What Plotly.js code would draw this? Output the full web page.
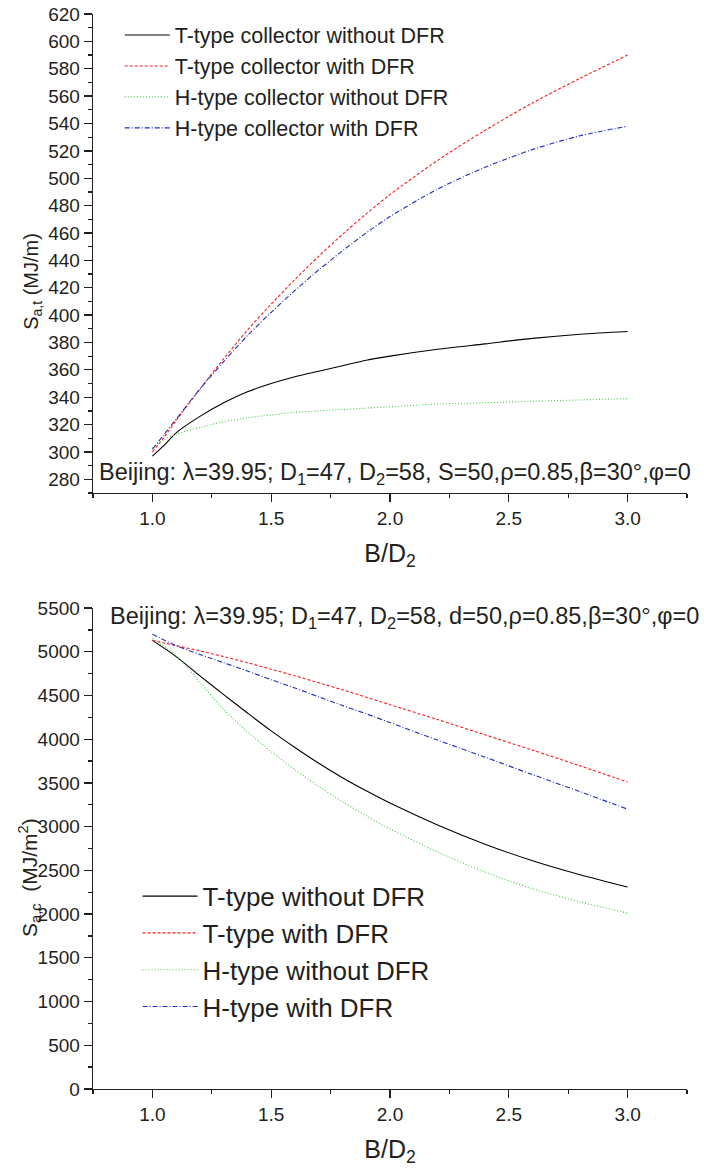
<!DOCTYPE html>
<html>
<head>
<meta charset="utf-8">
<script src="https://cdn.plot.ly/plotly-3.0.1.min.js"></script>
<style>html,body{margin:0;padding:0;background:#fff;}#chart{width:704px;height:1168px;}</style>
</head>
<body>
<div id="chart"></div>
<script>
// ---- data: top chart (S_a,t, MJ/m) ----
const xTop = [1.0, 1.05, 1.1, 1.2, 1.3, 1.4, 1.5, 1.6, 1.7, 1.8, 1.9, 2.0, 2.2, 2.4, 2.6, 2.8, 3.0];
const topTNo   = [297, 305, 314, 326, 336, 344, 350, 355, 359, 363, 367, 370, 375, 379, 383, 386, 388];
const topTWith = [300, 311, 323, 346, 368, 389, 408, 426, 443, 459, 474, 488, 513, 535, 555, 573, 590];
const topHNo   = [303, 309, 313, 318, 322, 325, 327, 329, 330, 331, 332, 333, 335, 336, 337, 338, 339];
const topHWith = [302, 313, 324, 346, 366, 385, 402, 418, 433, 447, 460, 472, 492, 508, 521, 531, 538];

// ---- data: bottom chart (S_a,c, MJ/m2) ----
const xBot = [1.0, 1.1, 1.2, 1.3, 1.4, 1.5, 1.6, 1.7, 1.8, 1.9, 2.0, 2.2, 2.4, 2.6, 2.8, 3.0];
const botTNo   = [5130, 4945, 4725, 4510, 4300, 4095, 3905, 3725, 3560, 3410, 3270, 3020, 2800, 2610, 2450, 2310];
const botTWith = [5130, 5070, 5010, 4945, 4875, 4800, 4725, 4645, 4565, 4480, 4395, 4225, 4050, 3875, 3695, 3510];
const botHNo   = [5150, 4955, 4650, 4340, 4085, 3860, 3650, 3460, 3285, 3125, 2975, 2710, 2480, 2290, 2140, 2010];
const botHWith = [5200, 5070, 4970, 4875, 4780, 4680, 4585, 4485, 4385, 4290, 4190, 3990, 3795, 3595, 3400, 3200];

const topNames = ["T-type collector without DFR", "T-type collector with DFR",
                  "H-type collector without DFR", "H-type collector with DFR"];
const botNames = ["T-type without DFR", "T-type with DFR", "H-type without DFR", "H-type with DFR"];

const topNote = "Beijing: λ=39.95; D<sub>1</sub>=47, D<sub>2</sub>=58, S=50,ρ=0.85,β=30°,φ=0";
const botNote = "Beijing: λ=39.95; D<sub>1</sub>=47, D<sub>2</sub>=58, d=50,ρ=0.85,β=30°,φ=0";

const styles = [
  {color: "#000000", dash: "solid"},
  {color: "#ff1a1a", dash: "3px,2px"},
  {color: "#44cc44", dash: "1px,2px"},
  {color: "#1f2fbf", dash: "5px,2px,1px,2px"}
];

const FONT = "Liberation Sans, Arial, Helvetica, sans-serif";
const TXT = "#231f20";

const topSeries = [topTNo, topTWith, topHNo, topHWith];
const botSeries = [botTNo, botTWith, botHNo, botHWith];

const traces = [];
topSeries.forEach((ys, i) => traces.push({
  x: xTop, y: ys, name: topNames[i], type: "scatter", mode: "lines",
  line: {color: styles[i].color, dash: styles[i].dash, width: 1.1, shape: "spline", smoothing: 0.8},
  xaxis: "x", yaxis: "y", legend: "legend"
}));
botSeries.forEach((ys, i) => traces.push({
  x: xBot, y: ys, name: botNames[i], type: "scatter", mode: "lines",
  line: {color: styles[i].color, dash: styles[i].dash, width: 1.1, shape: "spline", smoothing: 0.8},
  xaxis: "x2", yaxis: "y2", legend: "legend2"
}));

function xAxis(anchor) {
  return {
    anchor: anchor, range: [0.75, 3.25], tick0: 0, dtick: 0.5, tickformat: ".1f",
    showgrid: false, zeroline: false, showline: true, linecolor: "#231f20", linewidth: 1.3,
    ticks: "outside", ticklen: 8, tickwidth: 1.3, tickcolor: "#231f20",
    minor: {dtick: 0.25, ticks: "outside", ticklen: 4, tickwidth: 1.3, tickcolor: "#231f20", showgrid: false},
    tickfont: {family: FONT, size: 19, color: TXT},
    title: {text: "B/D<sub>2</sub>", font: {family: FONT, size: 25, color: TXT}, standoff: 16}
  };
}
function yAxis(anchor, domain, range, dtick, minor) {
  return {
    anchor: anchor, domain: domain, range: range, dtick: dtick,
    showgrid: false, zeroline: false, showline: true, linecolor: "#231f20", linewidth: 1.3,
    ticks: "outside", ticklen: 8, tickwidth: 1.3, tickcolor: "#231f20",
    minor: {dtick: minor, ticks: "outside", ticklen: 4, tickwidth: 1.3, tickcolor: "#231f20", showgrid: false},
    tickfont: {family: FONT, size: 19, color: TXT}
  };
}

const layout = {
  width: 704, height: 1168,
  margin: {l: 93, r: 17, t: 14, b: 79},
  paper_bgcolor: "#ffffff", plot_bgcolor: "#ffffff",
  font: {family: FONT, color: TXT},
  showlegend: true,
  xaxis: Object.assign(xAxis("y"), {domain: [0, 1]}),
  yaxis: yAxis("x", [0.5544, 1], [270, 620], 20, 10),
  xaxis2: Object.assign(xAxis("y2"), {domain: [0, 1]}),
  yaxis2: yAxis("x2", [0, 0.4474], [0, 5500], 500, 250),
  legend: {
    x: 0.045, y: 0.9995, xanchor: "left", yanchor: "top", xref: "paper", yref: "paper",
    bgcolor: "rgba(0,0,0,0)", borderwidth: 0, itemwidth: 45,
    font: {family: FONT, size: 21.5, color: TXT}
  },
  legend2: {
    x: 0.075, y: 0.2012, xanchor: "left", yanchor: "top", xref: "paper", yref: "paper",
    bgcolor: "rgba(0,0,0,0)", borderwidth: 0, itemwidth: 55,
    font: {family: FONT, size: 26, color: TXT}
  },
  annotations: [
    {text: topNote, xref: "paper", yref: "y", x: 0.006, y: 284, xanchor: "left", yanchor: "middle",
     showarrow: false, font: {family: FONT, size: 23.5, color: TXT}},
    {text: botNote, xref: "paper", yref: "y2", x: 0.026, y: 5390, xanchor: "left", yanchor: "middle",
     showarrow: false, font: {family: FONT, size: 23.5, color: TXT}},
    {text: "S<sub>a,t</sub> (MJ/m)", xref: "paper", yref: "paper", x: -0.103, y: 0.7516,
     xanchor: "center", yanchor: "middle", textangle: -90, showarrow: false,
     font: {family: FONT, size: 20, color: TXT}},
    {text: "S<sub>a,c</sub>  (MJ/m<sup>2</sup>)", xref: "paper", yref: "paper", x: -0.106, y: 0.1963,
     xanchor: "center", yanchor: "middle", textangle: -90, showarrow: false,
     font: {family: FONT, size: 21, color: TXT}}
  ]
};

Plotly.newPlot("chart", traces, layout, {displayModeBar: false, staticPlot: true});
</script>
</body>
</html>
